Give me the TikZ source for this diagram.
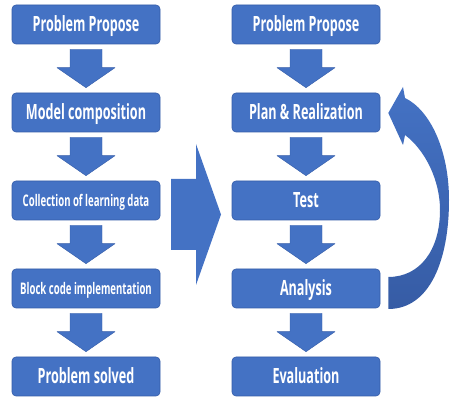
\documentclass[tikz,border=0pt]{standalone}
\usepackage{fontspec}
\setmainfont{Open Sans}[FakeStretch=0.6]
\usetikzlibrary{calc}
\definecolor{boxblue}{RGB}{68,114,196}
\definecolor{boxedge}{RGB}{52,92,168}
\definecolor{loopdark}{RGB}{54,92,165}
\tikzset{
  stage/.style={draw=boxedge, line width=0.6pt, fill=boxblue, rounded corners=4pt,
    minimum width=148pt, minimum height=39pt, inner sep=0pt, text=white,
    text height=15pt, text depth=0pt,
    font=\bfseries\fontsize{21}{24}\selectfont},
  smallstage/.style={stage, text height=11.5pt,
    font=\bfseries\fontsize{16}{19}\selectfont},
  flow/.style={fill=boxblue, draw=boxedge, line width=0.4pt}
}
% fat arrow from the bottom of one box to the top of the next
\newcommand\blockdown[2]{%
  \draw[flow] ($(#1.south)+(-16,-5)$) -- ($(#1.south)+(16,-5)$)
    -- ($(#2.north)+(16,25)$) -- ($(#2.north)+(29,25)$)
    -- ($(#2.north)+(0,5)$)
    -- ($(#2.north)+(-29,25)$) -- ($(#2.north)+(-16,25)$) -- cycle;}
\begin{document}
\begin{tikzpicture}[x=1pt, y=1pt, line join=round]
  \useasboundingbox (0,0) rectangle (450,398);

  % left column
  \node[stage] (lpro) at (86,373.5) {Problem Propose};
  \node[stage] (lmod) at (86,285.5) {Model composition};
  \node[smallstage] (ldat) at (86,197.5) {Collection of learning data};
  \node[smallstage] (lblk) at (86,109.5) {Block code implementation};
  \node[stage] (lsol) at (86,21.5) {Problem solved};

  % right column
  \node[stage] (rpro) at (306,373.5) {Problem Propose};
  \node[stage] (rpln) at (306,285.5) {Plan \& Realization};
  \node[stage] (rtst) at (306,197.5) {Test};
  \node[stage] (rana) at (306,109.5) {Analysis};
  \node[stage] (reva) at (306,21.5) {Evaluation};

  \blockdown{lpro}{lmod}
  \blockdown{lmod}{ldat}
  \blockdown{ldat}{lblk}
  \blockdown{lblk}{lsol}
  \blockdown{rpro}{rpln}
  \blockdown{rpln}{rtst}
  \blockdown{rtst}{rana}
  \blockdown{rana}{reva}

  % big arrow between the two columns
  \coordinate (mid) at (196,183.5);
  \fill[boxblue] ($(mid)+(-25,35.5)$) -- ($(mid)+(0,35.5)$) -- ($(mid)+(0,70.5)$)
    -- ($(mid)+(25,0)$)
    -- ($(mid)+(0,-70.5)$) -- ($(mid)+(0,-35.5)$) -- ($(mid)+(-25,-35.5)$) -- cycle;

  % loop back from Analysis to Plan & Realization
  \coordinate (loopin) at ($(rana.east)+(8,-4.5)$);
  \coordinate (looptip) at ($(rpln.east)+(8,-0.5)$);
  \shade[top color=boxblue, bottom color=loopdark]
    ($(loopin)+(0,-16)$) .. controls (430,89) and (449,138) .. (449,198)
    .. controls (449,248) and (430,288) .. (405,300)
    -- (403,311) -- (looptip) -- (403,253) -- (405,263)
    .. controls (425,248) and (440,218) .. (440,188)
    .. controls (440,148) and (420,121) .. ($(loopin)+(0,16)$) -- cycle;
\end{tikzpicture}
\end{document}
